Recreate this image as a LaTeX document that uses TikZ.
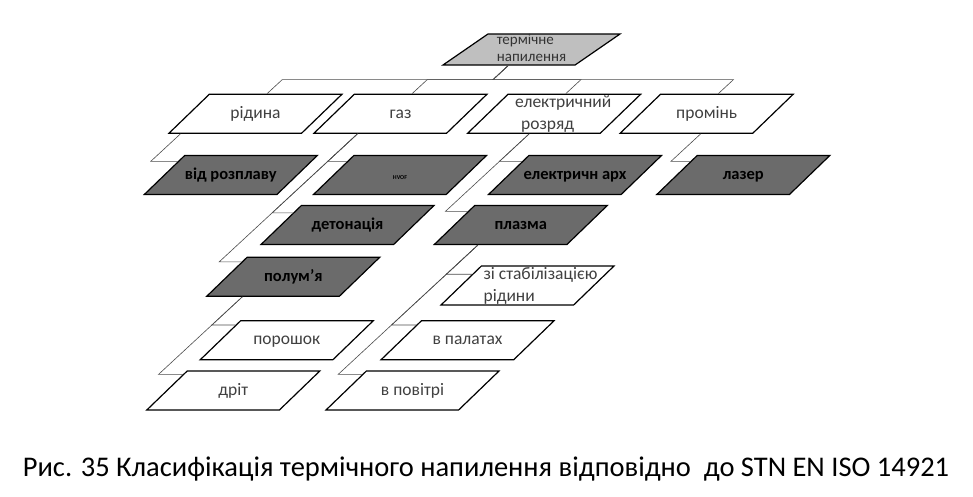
\documentclass[tikz,border=0pt]{standalone}
\usepackage{fontspec}
\setmainfont{Carlito}
\usetikzlibrary{shapes.geometric,calc}

\tikzset{
  box/.style={draw=black, line width=1.2pt, trapezium, trapezium left angle=44,
    trapezium right angle=136, trapezium stretches body, minimum width=173pt,
    inner sep=0pt, text height=24pt, text depth=15pt,
    execute at begin node={\hbox to 0pt\bgroup\hss},
    execute at end node={\hss\egroup},
    font=\fontsize{17.5}{22}\selectfont},
  lit/.style={box, fill=white, text=black!75},
  dark/.style={box, fill=black!58, text=black, font=\fontsize{16.5}{20}\selectfont\bfseries},
  top/.style={box, fill=black!25, text=black!80, trapezium left angle=34.6,
    trapezium right angle=145.4, minimum width=177pt, text height=19pt,
    text depth=12pt, font=\fontsize{15}{17}\selectfont},
  link/.style={draw=black!70, line width=0.6pt}
}

\begin{document}
\begin{tikzpicture}[x=1pt, y=-1pt]
    \useasboundingbox (0,0) rectangle (973,496);

    % Root of the hierarchy
    \node[top] (root) at (531.5,49.5) {\begin{tabular}{@{}l@{}}термічне\\напилення\end{tabular}};

    % First level
    \node[lit] (ridyna) at (255.5,113.7) {рідина};
    \node[lit] (gaz) at (400.5,113.7) {газ};
    \node[lit] (rozryad) at (554.2,113.7) {\hspace*{18pt}\begin{tabular}{@{}l@{}}електричний\\\hspace*{6pt}розряд\end{tabular}};
    \node[lit] (promin) at (706.7,113.7) {промінь};

    % Second level (dark)
    \node[dark] (rozplav) at (230.8,175) {від розплаву};
    \node[dark] (hvof) at (400,175) {\fontsize{6}{7}\selectfont HVOF};
    \node[dark] (elarkh) at (575,175) {електричн арх};
    \node[dark] (lazer) at (743.3,175) {лазер};
    \node[dark] (deton) at (347.5,225) {детонація};
    \node[dark] (plazma) at (520.8,225) {плазма};
    \node[dark] (polum) at (293.3,276.7) {полум'я};

    % Third level
    \node[lit] (stab) at (527.5,285.5) {\hspace*{26pt}\begin{tabular}{@{}l@{}}зі стабілізацією\\рідини\end{tabular}};
    \node[lit] (poroshok) at (286.7,340.3) {порошок};
    \node[lit] (palaty) at (467.5,340.3) {в палатах};
    \node[lit] (drit) at (233.3,390.5) {дріт};
    \node[lit] (povitri) at (412.5,390.5) {в повітрі};

    % Bus from the root to the first level
    \draw[link] let \p1=(root.bottom side), \p2=([xshift=58pt]ridyna.top left corner) in (\p1) -- ({\x1-1.08*(\y1-\y2)/2},{(\y1+\y2)/2}) -- ({\x2+1.08*(\y1-\y2)/2},{(\y1+\y2)/2}) -- (\p2);
    \draw[link] let \p1=(root.bottom side), \p2=([xshift=58pt]gaz.top left corner) in (\p1) -- ({\x1-1.08*(\y1-\y2)/2},{(\y1+\y2)/2}) -- ({\x2+1.08*(\y1-\y2)/2},{(\y1+\y2)/2}) -- (\p2);
    \draw[link] let \p1=(root.bottom side), \p2=([xshift=58pt]rozryad.top left corner) in (\p1) -- ({\x1-1.08*(\y1-\y2)/2},{(\y1+\y2)/2}) -- ({\x2+1.08*(\y1-\y2)/2},{(\y1+\y2)/2}) -- (\p2);
    \draw[link] let \p1=(root.bottom side), \p2=([xshift=58pt]promin.top left corner) in (\p1) -- ({\x1-1.08*(\y1-\y2)/2},{(\y1+\y2)/2}) -- ({\x2+1.08*(\y1-\y2)/2},{(\y1+\y2)/2}) -- (\p2);

    % Hanging connectors to the children
    \draw[link] let \p1=([xshift=13pt]ridyna.bottom left corner), \p2=($(rozplav.top left corner)!.16!(rozplav.bottom left corner)$) in (\p1) -- ({\x1-1.08*(\y1-\y2)},\y2) -- (\p2);
    \draw[link] let \p1=([xshift=45pt]gaz.bottom left corner), \p2=($(hvof.top left corner)!.16!(hvof.bottom left corner)$) in (\p1) -- ({\x1-1.08*(\y1-\y2)},\y2) -- (\p2);
    \draw[link] let \p1=([xshift=45pt]gaz.bottom left corner), \p2=($(deton.top left corner)!.2!(deton.bottom left corner)$) in (\p1) -- ({\x1-1.08*(\y1-\y2)},\y2) -- (\p2);
    \draw[link] let \p1=([xshift=45pt]gaz.bottom left corner), \p2=($(polum.top left corner)!.13!(polum.bottom left corner)$) in (\p1) -- ({\x1-1.08*(\y1-\y2)},\y2) -- (\p2);
    \draw[link] let \p1=([xshift=63pt]rozryad.bottom left corner), \p2=($(elarkh.top left corner)!.16!(elarkh.bottom left corner)$) in (\p1) -- ({\x1-1.08*(\y1-\y2)},\y2) -- (\p2);
    \draw[link] let \p1=([xshift=63pt]rozryad.bottom left corner), \p2=($(plazma.top left corner)!.16!(plazma.bottom left corner)$) in (\p1) -- ({\x1-1.08*(\y1-\y2)},\y2) -- (\p2);
    \draw[link] let \p1=([xshift=82pt]promin.bottom left corner), \p2=($(lazer.top left corner)!.16!(lazer.bottom left corner)$) in (\p1) -- ({\x1-1.08*(\y1-\y2)},\y2) -- (\p2);
    \draw[link] let \p1=([xshift=37pt]polum.bottom left corner), \p2=($(poroshok.top left corner)!.12!(poroshok.bottom left corner)$) in (\p1) -- ({\x1-1.08*(\y1-\y2)},\y2) -- (\p2);
    \draw[link] let \p1=([xshift=37pt]polum.bottom left corner), \p2=($(drit.top left corner)!.1!(drit.bottom left corner)$) in (\p1) -- ({\x1-1.08*(\y1-\y2)},\y2) -- (\p2);
    \draw[link] let \p1=([xshift=45pt]plazma.bottom left corner), \p2=($(stab.top left corner)!.22!(stab.bottom left corner)$) in (\p1) -- ({\x1-1.08*(\y1-\y2)},\y2) -- (\p2);
    \draw[link] let \p1=([xshift=45pt]plazma.bottom left corner), \p2=($(palaty.top left corner)!.12!(palaty.bottom left corner)$) in (\p1) -- ({\x1-1.08*(\y1-\y2)},\y2) -- (\p2);
    \draw[link] let \p1=([xshift=45pt]plazma.bottom left corner), \p2=($(povitri.top left corner)!.1!(povitri.bottom left corner)$) in (\p1) -- ({\x1-1.08*(\y1-\y2)},\y2) -- (\p2);

    % Caption
    \node[anchor=base, font=\fontsize{28.5}{32}\selectfont] (caption) at (486,476.5) {Рис. 35 Класифікація термічного напилення відповідно\ \ до STN EN ISO 14921};

\end{tikzpicture}
\end{document}
